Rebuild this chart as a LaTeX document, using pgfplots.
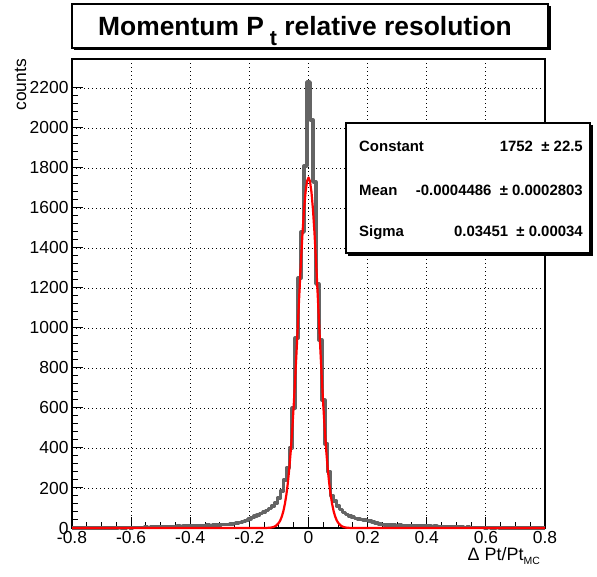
\documentclass[border=0pt]{standalone}
\usepackage{fontspec}
\setmainfont{Liberation Sans}
\usepackage{pgfplots}
\usepackage{pgfplotstable}
\pgfplotsset{compat=1.18}
\definecolor{histgray}{RGB}{100,100,100}
\pgfplotstableread{
x y
-0.80 0
-0.79 0
-0.78 1
-0.77 0
-0.76 0
-0.75 1
-0.74 0
-0.73 0
-0.72 1
-0.71 0
-0.70 1
-0.69 0
-0.68 1
-0.67 1
-0.66 0
-0.65 1
-0.64 2
-0.63 1
-0.62 1
-0.61 2
-0.60 1
-0.59 2
-0.58 3
-0.57 2
-0.56 3
-0.55 4
-0.54 3
-0.53 5
-0.52 4
-0.51 5
-0.50 6
-0.49 5
-0.48 7
-0.47 6
-0.46 8
-0.45 7
-0.44 9
-0.43 8
-0.42 10
-0.41 9
-0.40 11
-0.39 10
-0.38 12
-0.37 11
-0.36 13
-0.35 12
-0.34 14
-0.33 13
-0.32 15
-0.31 14
-0.30 16
-0.29 17
-0.28 18
-0.27 17
-0.26 20
-0.25 22
-0.24 25
-0.23 28
-0.22 33
-0.21 38
-0.20 45
-0.19 52
-0.18 60
-0.17 66
-0.16 72
-0.15 80
-0.14 88
-0.13 98
-0.12 110
-0.11 125
-0.10 150
-0.09 185
-0.08 240
-0.07 300
-0.06 400
-0.05 600
-0.04 950
-0.03 1250
-0.02 1480
-0.01 1810
0.00 2230
0.01 2040
0.02 1730
0.03 1220
0.04 940
0.05 640
0.06 420
0.07 280
0.08 160
0.09 135
0.10 110
0.11 92
0.12 78
0.13 68
0.14 60
0.15 54
0.16 48
0.17 45
0.18 42
0.19 40
0.20 38
0.21 35
0.22 30
0.23 24
0.24 20
0.25 17
0.26 16
0.27 15
0.28 14
0.29 15
0.30 13
0.31 14
0.32 12
0.33 13
0.34 11
0.35 12
0.36 10
0.37 11
0.38 13
0.39 10
0.40 9
0.41 10
0.42 8
0.43 9
0.44 7
0.45 8
0.46 6
0.47 7
0.48 5
0.49 6
0.50 5
0.51 4
0.52 5
0.53 3
0.54 4
0.55 3
0.56 2
0.57 3
0.58 2
0.59 2
0.60 1
0.61 2
0.62 1
0.63 1
0.64 2
0.65 1
0.66 0
0.67 1
0.68 1
0.69 0
0.70 1
0.71 0
0.72 1
0.73 0
0.74 0
0.75 1
0.76 0
0.77 0
0.78 0
0.79 0
0.80 0
}\histdata
\pgfplotstableread{
x y
-0.800 0
-0.150 0
-0.140 0.5
-0.130 1.5
-0.120 4.1
-0.110 10.9
-0.100 26.3
-0.095 39.6
-0.090 58.4
-0.085 84.4
-0.080 119.3
-0.075 165.2
-0.070 223.9
-0.065 297.3
-0.060 386.5
-0.055 492.0
-0.050 613.3
-0.045 748.7
-0.040 894.9
-0.035 1047.6
-0.030 1200.7
-0.025 1347.7
-0.020 1481.2
-0.015 1594.1
-0.010 1680.0
-0.005 1733.7
0.000 1752.0
0.005 1733.7
0.010 1680.0
0.015 1594.1
0.020 1481.2
0.025 1347.7
0.030 1200.7
0.035 1047.6
0.040 894.9
0.045 748.7
0.050 613.3
0.055 492.0
0.060 386.5
0.065 297.3
0.070 223.9
0.075 165.2
0.080 119.3
0.085 84.4
0.090 58.4
0.095 39.6
0.100 26.3
0.110 10.9
0.120 4.1
0.130 1.5
0.140 0.5
0.150 0
0.800 0
}\fitdata
\begin{document}
\begin{tikzpicture}
\useasboundingbox (0,0) rectangle (597bp,577bp);
\begin{axis}[
  at={(72bp,49bp)}, anchor=south west, scale only axis,
  width=473bp, height=469bp,
  xmin=-0.8, xmax=0.8, ymin=0, ymax=2345,
  xtick={-0.8,-0.6,-0.4,-0.2,0,0.2,0.4,0.6,0.8},
  xticklabels={-0.8,-0.6,-0.4,-0.2,0,0.2,0.4,0.6,0.8},
  ytick={0,200,400,600,800,1000,1200,1400,1600,1800,2000,2200},
  minor x tick num=3, minor y tick num=4,
  tick align=inside, xtick pos=bottom, ytick pos=left,
  major tick length=11bp, minor tick length=6bp,
  every tick/.style={black, line width=1bp},
  grid=major,
  major grid style={black, line width=0.8bp, dash pattern=on 0.9bp off 3.1bp},
  axis line style={line width=1.6bp},
  tick label style={font=\fontsize{17.5}{17.5}\selectfont},
  /pgf/number format/assume math mode=true,
  /pgf/number format/set thousands separator={},
  scaled y ticks=false,
  xlabel={Δ\hspace{5bp}Pt/Pt\raisebox{-4.5bp}{\fontsize{10.5}{10.5}\selectfont MC}},
  xlabel style={at={(axis description cs:1,0)}, anchor=north east, yshift=-19bp, xshift=-5bp, inner sep=0pt, font=\fontsize{18}{18}\selectfont},
  ylabel={counts},
  ylabel style={at={(axis description cs:-0.097,1)}, anchor=base east, inner sep=0pt, font=\fontsize{17.5}{17.5}\selectfont},
  clip=false,
]
\addplot[const plot mark mid, histgray, line width=3.5bp, line join=round] table[x=x,y=y] {\histdata};
\addplot[red, line width=2.2bp, line join=round] table[x=x,y=y] {\fitdata};
\end{axis}
% title box
\draw[line width=2bp, black] (74bp,528bp) -- (549.5bp,528bp) -- (549.5bp,571bp);
\draw[line width=1.2bp, black, fill=white] (72bp,529bp) rectangle (548bp,573bp);
\node[anchor=base, inner sep=0pt, font=\bfseries\fontsize{26.5}{26.5}\selectfont] at (305bp,541bp)
  {Momentum P\hspace{6bp}\raisebox{-10bp}{\fontsize{21.5}{21.5}\selectfont t} relative resolution};
% stats box
\draw[line width=2.5bp, black] (348bp,322.5bp) -- (592bp,322.5bp) -- (592bp,452bp);
\draw[line width=1.2bp, black, fill=white] (346bp,324bp) rectangle (590bp,454bp);
\begin{scope}[every node/.style={inner sep=0pt, font=\bfseries\fontsize{15}{15}\selectfont}]
\node[anchor=base west] at (359bp,425bp) {Constant};
\node[anchor=base east] at (583bp,425bp) {1752~~±~22.5};
\node[anchor=base west] at (359bp,381.5bp) {Mean};
\node[anchor=base east] at (583bp,381.5bp) {-0.0004486~~±~0.0002803};
\node[anchor=base west] at (359bp,340bp) {Sigma};
\node[anchor=base east] at (583bp,340bp) {0.03451~~±~0.00034};
\end{scope}
\end{tikzpicture}
\end{document}
